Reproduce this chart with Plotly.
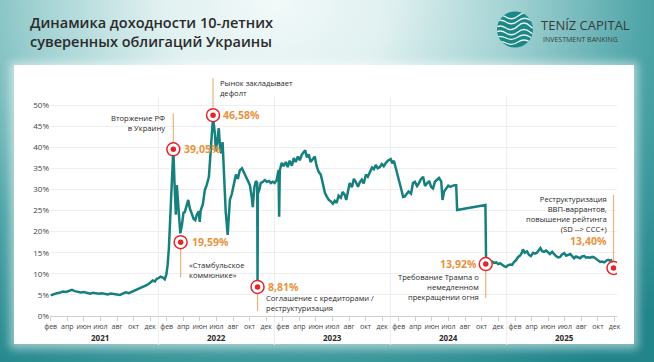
import base64
import pandas as pd
import plotly.graph_objects as go

# ---------------- data ----------------
days_2021 = ['01-27','02-06','02-15','02-24','03-06','03-17','03-26','04-04','04-13','04-23',
             '05-02','05-12','05-21','05-31','06-09','06-18','06-28','07-07','07-17','07-26',
             '08-04','08-14','08-23','09-02','09-11','09-20','09-30','10-09','10-19','10-28',
             '11-07','11-16','11-25','12-05','12-14','12-21','12-27']
vals_2021 = [4.9,5.2,5.4,5.5,5.8,5.7,6.0,6.2,5.9,5.8,
             5.6,5.7,5.5,5.3,5.5,5.4,5.3,5.4,5.2,5.1,
             5.3,5.2,5.0,5.0,5.3,5.6,5.4,5.7,6.0,6.3,
             6.6,6.9,7.3,7.8,8.4,8.2,8.8]

days_2022 = ['01-02','01-08','01-15','01-21','01-26','01-30','02-03','02-06','02-09','02-12',
             '02-14','02-17','02-21','02-25','02-28','03-03','03-06','03-11','03-16','03-21',
             '03-25','03-31','04-05','04-10','04-16','04-22','04-27','05-02','05-08','05-11',
             '05-14','05-21','05-27','06-02','06-09','06-13','06-18','06-22','06-28','07-01',
             '07-05','07-10','07-15','07-18','07-22','07-26','07-29','08-01','08-04','08-07',
             '08-11','08-14','08-20','08-26','09-02','09-08','09-14','09-21','09-27','10-03',
             '10-09','10-16','10-22','10-25','10-30','11-04','11-08','11-09','11-10','11-15',
             '11-19','11-26','12-02','12-08','12-15','12-21','12-27']
vals_2022 = [9.0,9.3,9.1,8.7,9.8,12.0,16,22,28,33,
             36,39.5,31,24,31,28,23,19.6,21.5,24.5,
             24.6,26.5,27.5,25.5,24.4,23,22.7,24,24.8,22.3,
             25,26.5,29.8,31,33,37,42,47.2,43,39,
             41,44.5,39,38.6,41.2,34,28,24.5,22,19.2,
             24,27.5,28.9,31,33.5,32.5,34.5,35,34,33,
             32,31,28,25.8,30.5,32,31.5,8.5,29,30,
             31.5,31.8,32.2,31.8,32,31.5,31.8]

days_2023 = ['01-02','01-08','01-14','01-16','01-18','01-24','01-30','02-06','02-12','02-18',
             '02-25','03-03','03-09','03-16','03-22','03-28','04-03','04-08','04-13','04-19',
             '04-25','05-02','05-08','05-14','05-20','05-27','06-02','06-09','06-15','06-21',
             '06-27','07-04','07-10','07-16','07-22','07-29','08-04','08-11','08-15','08-20',
             '08-26','09-02','09-08','09-14','09-21','09-27','10-03','10-09','10-16','10-22',
             '10-28','11-04','11-10','11-16','11-22','11-29','12-05','12-11','12-18','12-24']
vals_2023 = [31.5,32.2,34.6,23.5,34.5,36.3,35.5,36.5,35.3,36.8,
             35.6,37.4,36.5,37.8,36.9,38.2,38.8,39.3,37.6,38.3,
             36.5,37.2,37.8,35.5,34.2,33.5,31.8,29.2,28.3,27.5,
             27.2,26.6,27.3,26.8,28.5,28.0,29.4,28.6,27.5,29.5,
             31.5,30.5,32.5,31.8,30.6,31.7,32.3,31.4,33.5,33.0,
             34.1,35.2,34.8,35.8,35.0,35.3,36.0,35.5,36.3,36.8]

days_2024 = ['01-02','01-07','01-12','01-18','01-24','01-30','02-06','02-10','02-15','02-21',
             '02-27','03-06','03-12','03-18','03-25','03-31','04-06','04-13','04-19','04-25',
             '05-02','05-08','05-14','05-20','05-27','06-02','06-09','06-13','06-18','06-24',
             '07-01','07-07','07-13','07-20','07-26','07-29','10-26','10-28','11-03','11-10',
             '11-16','11-22','11-29','12-05','12-11','12-18','12-24','12-30']
vals_2024 = [37.2,36.2,36.8,35.2,33.5,31.5,29.5,28.2,28.3,28.9,
             29.5,29.0,31.5,31.8,30.8,31.5,32.4,33.0,30.8,31.4,
             32.0,30.6,30.2,31.8,32.3,32.7,31.9,27.5,29.5,30.3,
             30.9,30.6,30.8,31.0,31.0,25.1,26.3,13.3,13.0,12.8,
             12.9,12.6,12.7,12.3,12.5,12.0,11.8,11.6]

days_2025 = ['01-05','01-12','01-18','01-24','01-30','02-06','02-12','02-17','02-21','02-27',
             '03-06','03-12','03-18','03-25','03-31','04-06','04-13','04-17','04-22','04-28',
             '05-05','05-11','05-17','05-24','05-30','06-05','06-12','06-18','06-24','07-01',
             '07-07','07-13','07-20','07-26','08-01','08-07','08-14','08-20','08-26','09-02',
             '09-08','09-14','09-21','09-27','10-03','10-10','10-16','10-22','10-28','11-04',
             '11-10','11-16','11-22','11-29']
vals_2025 = [12.0,12.2,12.1,12.8,13.2,14.0,14.3,14.9,15.8,15.0,
             15.3,14.5,14.2,15.0,14.8,15.0,15.6,16.1,15.4,15.2,
             15.5,15.2,14.7,15.2,14.6,14.2,13.9,14.0,14.6,14.9,
             14.3,14.4,14.7,14.2,13.7,14.1,13.9,13.7,14.1,14.2,
             13.8,13.9,13.8,14.0,13.9,13.5,13.1,12.8,12.9,12.7,
             13.1,13.3,13.1,13.3]

event_dates = ['2022-02-17', '2022-03-12', '2022-06-22', '2022-11-09', '2024-10-27', '2025-12-03']
event_y = [39.5, 17.5, 47.6, 6.9, 12.3, 11.4]
event_labels = ['39,05%', '19,59%', '46,58%', '8,81%', '13,92%', '13,40%']
event_texts = ['Вторжение РФ<br>в Украину',
               '«Стамбульское<br>коммюнике»',
               'Рынок закладывает<br>дефолт',
               'Соглашение с кредиторами /<br>реструктуризация',
               'Требование Трампа о<br>немедленном<br>прекращении огня',
               'Реструктуризация<br>ВВП-варрантов,<br>повышение рейтинга<br>(SD --> CCC+)']

years = [2021, 2022, 2023, 2024, 2025]
month_labels = ['фев', 'апр', 'июн', 'июл', 'авг', 'окт', 'дек']
y_ticks = [0, 5, 10, 15, 20, 25, 30, 35, 40, 45, 50]
title_text = 'Динамика доходности 10-летних<br>суверенных облигаций Украины'

# ---------------- assemble ----------------
dates, values = [], []
for yr, ds, vs in zip(years, [days_2021, days_2022, days_2023, days_2024, days_2025],
                      [vals_2021, vals_2022, vals_2023, vals_2024, vals_2025]):
    dates += [f'{yr}-{d}' for d in ds]
    values += vs

FW, FH = 654, 362
L, R, T, B = 50, 37, 70, 46
PW, PH = FW - L - R, FH - T - B
Y_MAX = PH / 4.22


def fx(px):
    return (px - L) / PW


def fy(py):
    return (FH - B - py) / PH


TEAL = '#16807e'
RED = '#e3262c'
ORANGE = '#e8923c'
LEADER = '#eab37d'
TXT = '#2a2a2a'
FONT = 'Open Sans'

svg = f"""<svg xmlns='http://www.w3.org/2000/svg' width='{FW}' height='{FH}' viewBox='0 0 {FW} {FH}'>
<defs>
<radialGradient id='g' cx='0.42' cy='0.0' r='0.95' gradientTransform='translate(0.42 0) scale(0.85 1.3) translate(-0.42 0)'>
<stop offset='0' stop-color='#f2f9f9'/>
<stop offset='0.22' stop-color='#e0f0f0'/>
<stop offset='0.45' stop-color='#a2d2d3'/>
<stop offset='0.7' stop-color='#4fa5a8'/>
<stop offset='1' stop-color='#21858a'/>
</radialGradient>
<filter id='s' x='-10%' y='-10%' width='120%' height='120%'><feGaussianBlur stdDeviation='4'/></filter>
<clipPath id='c'><circle cx='515' cy='29.5' r='18'/></clipPath>
</defs>
<rect width='{FW}' height='{FH}' fill='url(#g)'/>
<rect x='10' y='62' width='628' height='287' fill='#ffffff' opacity='0.5' filter='url(#s)'/>
<rect x='14' y='65' width='620' height='279' fill='#ffffff'/>
<circle cx='515' cy='29.5' r='18' fill='#1d8785'/>
<g clip-path='url(#c)' fill='none' stroke='#ffffff' stroke-width='1.3' opacity='0.9'>
<path d='M494 18 q6 -5 12 -1 t12 -1 t12 -2 t12 -1'/>
<path d='M494 23 q6 -5 12 -1 t12 -1 t12 -1 t12 -2'/>
<path d='M494 28 q6 -4 12 0 t12 -2 t12 0 t12 -2'/>
<path d='M494 33 q6 -4 12 0 t12 -1 t12 0 t12 -1'/>
<path d='M494 38 q6 -3 12 0 t12 -1 t12 0 t12 -1'/>
<path d='M494 43 q6 -3 12 0 t12 -1 t12 0 t12 -1'/>
</g>
</svg>"""
bg_src = 'data:image/svg+xml;base64,' + base64.b64encode(svg.encode('utf-8')).decode('ascii')

fig = go.Figure()
fig.add_trace(go.Scatter(x=dates, y=values, mode='lines',
                         line=dict(color=TEAL, width=2.5), hoverinfo='skip', showlegend=False))
fig.add_trace(go.Scatter(x=event_dates, y=event_y, mode='markers',
                         marker=dict(size=13, color='white', line=dict(color=RED, width=1.5)),
                         hoverinfo='skip', showlegend=False))
fig.add_trace(go.Scatter(x=event_dates, y=event_y, mode='markers',
                         marker=dict(size=5.5, color=RED), hoverinfo='skip', showlegend=False))

# x ticks: seven evenly spaced month labels per year
tickvals = []
ticktext = []
for yr in years:
    for k, m in enumerate(month_labels):
        tickvals.append(pd.Timestamp(f'{yr}-01-01') + pd.Timedelta(days=(k + 0.5) * 365.25 / 7))
        ticktext.append(m)

shapes = []
# year separators
for yr in years[1:]:
    shapes.append(dict(type='line', xref='x', yref='paper', x0=f'{yr}-01-01', x1=f'{yr}-01-01',
                       y0=fy(345), y1=fy(97), line=dict(color='#ececec', width=1), layer='between'))

# leader lines (pixel length from marker)
leader_px = [-36, 35, -37, 24, 34, -73]
for d, yv, lp in zip(event_dates, event_y, leader_px):
    y_end = yv - lp / 4.22
    shapes.append(dict(type='line', xref='x', yref='y', x0=d, x1=d, y0=yv, y1=y_end,
                       line=dict(color=LEADER, width=1.2), layer='between'))

annotations = []
# value labels: (xanchor, xshift, yshift)
val_pos = [('left', 9, 0), ('left', 9, 0), ('left', 8, 0), ('left', 8, 0), ('right', -7, 0), ('right', -5, 27)]
txt_pos = [('right', -6, 26), ('left', 6, -28), ('left', 5, 27), ('left', 6, -16), ('right', -5, -23), ('right', -5, 54)]
for d, yv, lab, txt, vp, tp in zip(event_dates, event_y, event_labels, event_texts, val_pos, txt_pos):
    annotations.append(dict(x=d, y=yv, xref='x', yref='y', text=lab, showarrow=False,
                            xanchor=vp[0], yanchor='middle', xshift=vp[1], yshift=vp[2],
                            font=dict(family=FONT, size=10.5, color=ORANGE, weight=700)))
    annotations.append(dict(x=d, y=yv, xref='x', yref='y', text=txt, showarrow=False,
                            xanchor=tp[0], yanchor='middle', xshift=tp[1], yshift=tp[2],
                            align=tp[0], font=dict(family=FONT, size=7.6, color=TXT, weight=500)))

# year labels
for yr in years:
    annotations.append(dict(x=f'{yr}-07-02', y=fy(337), xref='x', yref='paper', text=str(yr),
                            showarrow=False, xanchor='center', yanchor='middle',
                            font=dict(family=FONT, size=8, color=TXT, weight=700)))

# title and brand
annotations.append(dict(x=fx(28), y=fy(32), xref='paper', yref='paper', text=title_text,
                        showarrow=False, xanchor='left', yanchor='middle', align='left',
                        font=dict(family=FONT, size=14.5, color='#2b2b2b', weight=600)))
annotations.append(dict(x=fx(539), y=fy(25), xref='paper', yref='paper', text='TENÍZ CAPITAL',
                        showarrow=False, xanchor='left', yanchor='middle',
                        font=dict(family=FONT, size=13, color='#3a3a3a')))
annotations.append(dict(x=fx(541), y=fy(40), xref='paper', yref='paper', text='INVESTMENT BANKING',
                        showarrow=False, xanchor='left', yanchor='middle',
                        font=dict(family=FONT, size=7, color='#3a3a3a')))

fig.update_layout(
    width=FW, height=FH,
    margin=dict(l=L, r=R, t=T, b=B, autoexpand=False),
    paper_bgcolor='#8cc6c7',
    plot_bgcolor='rgba(0,0,0,0)',
    showlegend=False,
    images=[dict(source=bg_src, xref='paper', yref='paper', x=fx(0), y=fy(0),
                 sizex=FW / PW, sizey=FH / PH, xanchor='left', yanchor='top',
                 sizing='stretch', layer='below')],
    shapes=shapes,
    annotations=annotations,
    xaxis=dict(type='date', range=['2021-01-25', '2025-12-14'], showgrid=False, zeroline=False,
               tickmode='array', tickvals=tickvals, ticktext=ticktext, tickangle=0,
               tickfont=dict(family=FONT, size=7, color='#444444'),
               showline=True, linecolor='#d0d0d0', linewidth=1,
               ticks='outside', ticklen=4, tickcolor='#d0d0d0', fixedrange=True),
    yaxis=dict(range=[0, Y_MAX], tickmode='array', tickvals=y_ticks,
               ticktext=[f'{v}%' for v in y_ticks], showgrid=True, gridcolor='#efefef',
               gridwidth=1, zeroline=False, showline=False, ticks='',
               tickfont=dict(family=FONT, size=8, color='#444444'), fixedrange=True),
)

fig.write_html('out.html', config={'displayModeBar': False},
               post_script="document.body.style.margin='0';document.body.style.overflow='hidden';")
